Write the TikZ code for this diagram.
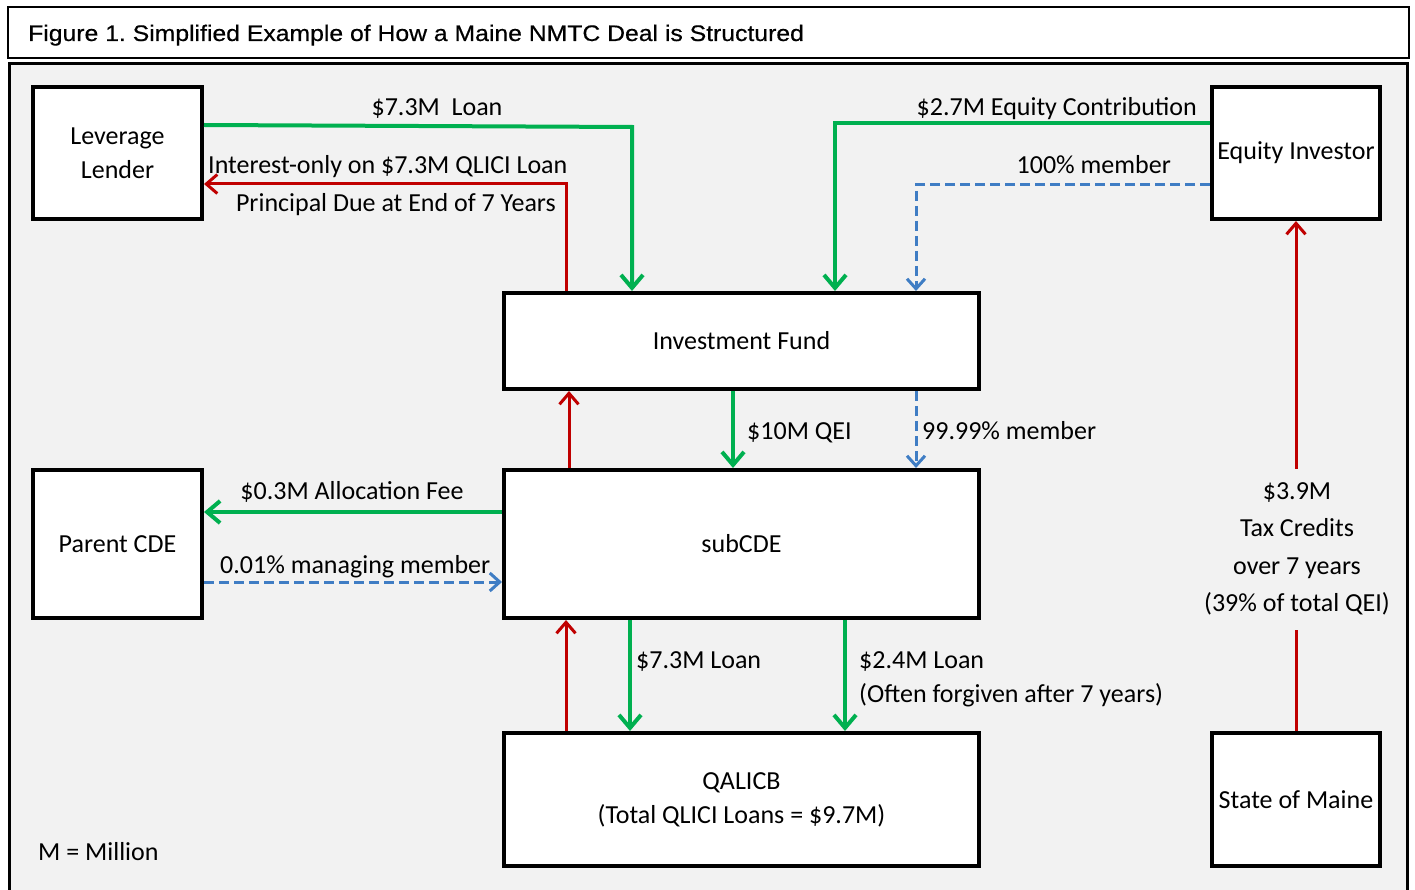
\documentclass[tikz,border=0pt]{standalone}
\usepackage{fontspec}
\setmainfont{Carlito}
\newfontfamily\titlefont[FakeStretch=1.1, FakeBold=0.5]{Liberation Sans}
\usetikzlibrary{arrows.meta}
\definecolor{flowgreen}{HTML}{00B050}
\definecolor{flowred}{HTML}{C00000}
\definecolor{flowblue}{HTML}{3F7DC4}
\definecolor{panel}{HTML}{F2F2F2}
\frenchspacing
\begin{document}
\begin{tikzpicture}[x=1pt,y=-1pt,
  font=\fontsize{26}{34}\selectfont,
  entity/.style={draw=black, line width=4pt, fill=white, align=center, inner sep=0pt},
  money/.style={draw=flowgreen, line width=4pt, -{Straight Barb[length=13pt,width=22pt,line width=4pt]}},
  payback/.style={draw=flowred, line width=3pt, -{Straight Barb[length=11pt,width=19pt,line width=3pt]}},
  member/.style={draw=flowblue, line width=3pt, dash pattern=on 10pt off 5pt, -{Straight Barb[length=10pt,width=18pt,line width=3pt]}},
  lbl/.style={inner sep=0pt}]
\useasboundingbox (0,0) rectangle (1415,890);
\fill[white] (0,0) rectangle (1415,890);

% heading strip
\draw[line width=2pt] (8,7) rectangle (1409,58);
\node[lbl, anchor=base west, font=\titlefont\fontsize{22.5}{26}\selectfont] (title) at (28,41)
  {Figure 1. Simplified Example of How a Maine NMTC Deal is Structured};

% grey panel
\draw[line width=3pt, fill=panel] (9.5,63.5) rectangle (1407.5,895);

% parties
\node[entity, minimum width=169pt, minimum height=132pt] (lender) at (117.5,153) {Leverage\\Lender};
\node[entity, minimum width=168pt, minimum height=132pt] (investor) at (1296,153) {Equity Investor};
\node[entity, minimum width=475pt, minimum height=96pt] (fund) at (741.5,341) {Investment Fund};
\node[entity, minimum width=475pt, minimum height=148pt] (sub) at (741.5,544) {subCDE};
\node[entity, minimum width=169pt, minimum height=148pt] (parent) at (117.5,544) {Parent CDE};
\node[entity, minimum width=475pt, minimum height=133pt] (qalicb) at (741.5,799.5) {QALICB\\(Total QLICI Loans = \$9.7M)};
\node[entity, minimum width=168pt, minimum height=133pt] (state) at (1296,799.5) {State of Maine};

% upper flows
\draw[money] (lender.east |- 0,125) -- (632,127) -- (fund.north -| 632,0);
\draw[payback] (fund.north -| 566,0) |- (lender.east |- 0,184);
\draw[money] (investor.west |- 0,123) -| (fund.north -| 835,0);
\draw[member] (investor.west |- 0,185) -| (fund.north -| 916,0);

\node[lbl, anchor=base] (l1) at (437,116) {\$7.3M\ \ Loan};
\node[lbl, anchor=base west] (l2) at (208,174) {Interest-only on \$7.3M QLICI Loan};
\node[lbl, anchor=base east] (l3) at (556,212) {Principal Due at End of 7 Years};
\node[lbl, anchor=base east] (l4) at (1197,116) {\$2.7M Equity Contribution};
\node[lbl, anchor=base east] (l5) at (1171,174) {100\% member};

% fund to subCDE
\draw[payback] (sub.north -| 569,0) -- (fund.south -| 569,0);
\draw[money] (fund.south -| 733,0) -- (sub.north -| 733,0);
\draw[member] (fund.south -| 916,0) -- (sub.north -| 916,0);
\node[lbl, anchor=base west] (l6) at (747,439) {\$10M QEI};
\node[lbl, anchor=base west] (l7) at (922,439) {99.99\% member};

% parent CDE
\draw[money] (sub.west |- 0,512) -- (parent.east |- 0,512);
\draw[member] (parent.east |- 0,582) -- (sub.west |- 0,582);
\node[lbl, anchor=base] (l8) at (352,499) {\$0.3M Allocation Fee};
\node[lbl, anchor=base west] (l9) at (220,573) {0.01\% managing member};

% subCDE to QALICB
\draw[payback] (qalicb.north -| 566,0) -- (sub.south -| 566,0);
\draw[money] (sub.south -| 630,0) -- (qalicb.north -| 630,0);
\draw[money] (sub.south -| 845,0) -- (qalicb.north -| 845,0);
\node[lbl, anchor=base west] (l10) at (636,668) {\$7.3M Loan};
\node[lbl, anchor=base west] (l11) at (859,668) {\$2.4M Loan};
\node[lbl, anchor=base west] (l12) at (859,702) {(Often forgiven after 7 years)};

% tax credits
\draw[payback] (state.north) -- (investor.south);
\node[fill=panel, inner sep=0pt, minimum height=161pt, minimum width=186pt, align=center,
  font=\fontsize{26}{37.5}\selectfont] (credits) at (1297,549)
  {\$3.9M\\Tax Credits\\over 7 years\\(39\% of total QEI)};

\node[lbl, anchor=base west] (note) at (38,860) {M = Million};
\end{tikzpicture}
\end{document}
